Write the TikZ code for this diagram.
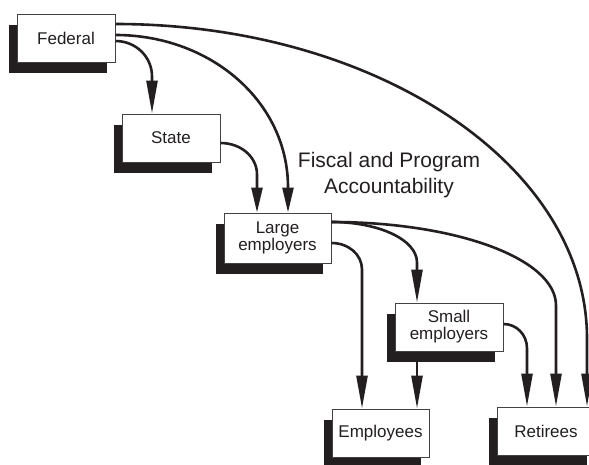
\documentclass[tikz,border=0pt]{standalone}
\usepackage{fontspec}
\setmainfont{Liberation Sans}
\usetikzlibrary{arrows.meta,shadows}
\definecolor{ink}{HTML}{231F20}
\begin{document}
\begin{tikzpicture}[x=1pt,y=-1pt,
  box/.style={draw=ink!85, line width=1pt, fill=white, minimum width=98pt,
    minimum height=48pt, inner sep=0pt, align=center,
    font=\fontsize{17}{17}\selectfont, text=ink,
    drop shadow={shadow xshift=-8pt, shadow yshift=-11pt, fill=ink, opacity=1}},
  conn/.style={draw=ink, line width=2.6pt, -{Triangle[length=33pt,width=11pt]}},
  connshort/.style={draw=ink, line width=2.6pt, -{Triangle[length=25pt,width=11pt]}},
  label/.style={font=\fontsize{21}{26}\selectfont, align=center, text=ink}
]
\clip (0,0) rectangle (589,464);
\fill[white] (0,0) rectangle (589,464);

\node[box] (fed) at (66,38) {Federal};
\node[box] (state) at (171,138) {State};
\node[box, minimum width=107pt, minimum height=50pt] (large) at (277.5,238) {Large\\employers};
\node[box, minimum width=108pt] (small) at (449,327) {Small\\employers};
\node[box, minimum width=97pt] (emp) at (380.5,433) {Employees};
\node[box] (ret) at (546,431) {Retirees};
\node[label] (fiscal) at (389,175) {Fiscal and Program\\Accountability};

% Federal
\draw[conn] ([yshift=-3pt]fed.east) .. controls +(20,0) and +(0,-20) ..
  ([xshift=-19pt,yshift=37pt]state.north) -- ([xshift=-19pt]state.north);
\draw[connshort] ([yshift=3pt]fed.east) .. controls +(95,0) and +(0,-86) ..
  ([xshift=10.5pt,yshift=25pt]large.north) -- ([xshift=10.5pt]large.north);
\draw[conn] ([yshift=14pt]fed.east) .. controls +(260,0) and +(0,-174) ..
  ([xshift=41pt,yshift=68pt]ret.north) -- ([xshift=41pt]ret.north);

% State
\draw[connshort] ([yshift=-5pt]state.east) .. controls +(20,0) and +(0,-18) ..
  ([xshift=-20.5pt,yshift=38pt]large.north) -- ([xshift=-20.5pt]large.north);

% Large employers
\draw[conn] ([yshift=-5pt]large.east) .. controls +(17,0) and +(0,-15) ..
  ([xshift=-18.5pt,yshift=139pt]emp.north) -- ([xshift=-18.5pt]emp.north);
\draw[conn] ([yshift=16pt]large.east) .. controls +(47,0) and +(0,-23) ..
  ([xshift=-32pt,yshift=40pt]small.north) -- ([xshift=-32pt]small.north);
\draw[conn] ([yshift=16pt]large.east) .. controls +(124,0) and +(0,-47) ..
  ([xshift=10pt,yshift=101pt]ret.north) -- ([xshift=10pt]ret.north);

% Small employers
\draw[conn] ([xshift=-32pt]small.south) -- ([xshift=36.5pt]emp.north);
\draw[conn] ([yshift=3pt]small.east) .. controls +(13,0) and +(0,-14) ..
  ([xshift=-19pt,yshift=58pt]ret.north) -- ([xshift=-19pt]ret.north);
\end{tikzpicture}
\end{document}
